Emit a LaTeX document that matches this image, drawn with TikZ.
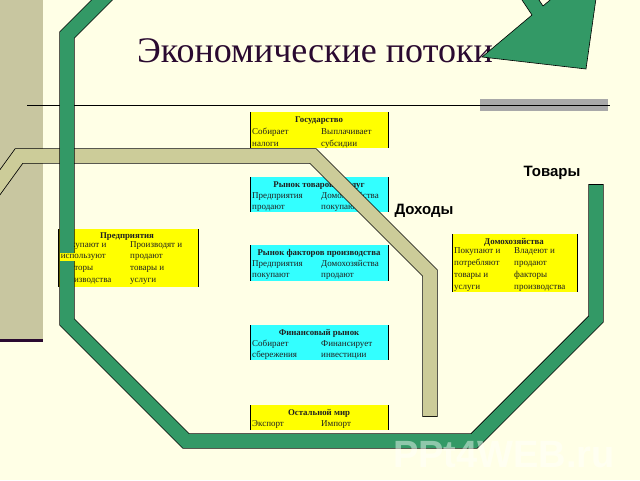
\documentclass[tikz,border=0pt]{standalone}
\usepackage{fontspec}
\setmainfont{Liberation Serif}
\newfontfamily\labfont{Liberation Sans}
\definecolor{bg}{HTML}{FFFFE6}
\definecolor{tanbar}{HTML}{C8C6A0}
\definecolor{grn}{HTML}{339966}
\definecolor{tanband}{HTML}{CCCC99}
\definecolor{cyanbox}{HTML}{33FFFF}
\definecolor{ylw}{HTML}{FFFF00}
\definecolor{titlec}{HTML}{2A0A30}
\definecolor{txt}{HTML}{202020}
\definecolor{graybar}{HTML}{A8A8A8}
\tikzset{
  boxy/.style={draw=none, inner sep=0, anchor=north west, minimum width=138, minimum height=36},
  cell/.style={font=\fontsize{9}{10}\selectfont, text=txt, inner sep=0, anchor=base west},
  head/.style={font=\bfseries\fontsize{8.8}{10}\selectfont, text=txt, inner sep=0, anchor=base},
  edge/.style={black, line width=0.8},
  bandout/.style={black, line width=15.4, line join=miter, line cap=butt},
  grnin/.style={grn, line width=13.8, line join=miter, line cap=butt},
  tanin/.style={tanband, line width=13.8, line join=miter, line cap=butt},
  biglab/.style={font=\labfont\bfseries\fontsize{15}{18}\selectfont, text=black, inner sep=0}
}
\begin{document}
\begin{tikzpicture}[x=1pt,y=-1pt]
\useasboundingbox (0,0) rectangle (640,480);
\fill[bg] (0,0) rectangle (640,480);
\begin{scope}
\clip (0,0) rectangle (640,480);
% left tan bar
\fill[tanbar] (0,0) rectangle (43,340);
\fill[titlec] (0,339) rectangle (43,341.5);
% gray bar and rule
\fill[graybar] (480,99) rectangle (608,111);
\draw[black, line width=0.8] (27,105) -- (610,105);
% title
\node[font=\fontsize{36}{40}\selectfont, text=titlec, inner sep=0, anchor=base west] (title) at (137,62) {Экономические потоки};

% boxes
\node[boxy, fill=ylw] (gos) at (250,112) {};
\node[boxy, fill=cyanbox, minimum height=35] (rtu) at (250,177) {};
\node[boxy, fill=cyanbox] (rfp) at (250,245) {};
\node[boxy, fill=cyanbox, minimum height=35] (fin) at (250,325) {};
\node[boxy, fill=ylw, minimum height=25] (mir) at (250,405) {};
\node[boxy, fill=ylw, minimum width=140, minimum height=58] (pred) at (58,229) {};
\node[boxy, fill=ylw, minimum width=125, minimum height=58] (dom) at (452,234) {};
\foreach \b in {gos,rtu,rfp,fin,mir,pred,dom}{
  \draw[edge] (\b.north west) -- (\b.south west);
  \draw[edge] (\b.north east) -- (\b.south east);
}
% Gosudarstvo
\node[head] (gosh) at (319,122) {Государство};
\node[cell] (g1) at (252,134) {Собирает};
\node[cell] (g2) at (321,134) {Выплачивает};
\node[cell] (g3) at (252,146) {налоги};
\node[cell] (g4) at (321,146) {субсидии};
% Rynok tovarov
\node[head] (rtuh) at (319,187) {Рынок товаров и услуг};
\node[cell] (r1) at (252,198) {Предприятия};
\node[cell] (r2) at (321,198) {Домохозяйства};
\node[cell] (r3) at (252,209) {продают};
\node[cell] (r4) at (321,209) {покупают};
% Rynok faktorov
\node[head] (rfph) at (319,255) {Рынок факторов производства};
\node[cell] (f1) at (252,266) {Предприятия};
\node[cell] (f2) at (321,266) {Домохозяйства};
\node[cell] (f3) at (252,277) {покупают};
\node[cell] (f4) at (321,277) {продают};
% Finansovyj rynok
\node[head] (finh) at (319,335) {Финансовый рынок};
\node[cell] (n1) at (252,346) {Собирает};
\node[cell] (n2) at (321,346) {Финансирует};
\node[cell] (n3) at (252,357) {сбережения};
\node[cell] (n4) at (321,357) {инвестиции};
% Ostalnoj mir
\node[head] (mirh) at (319,415) {Остальной мир};
\node[cell] (m1) at (252,426) {Экспорт};
\node[cell] (m2) at (321,426) {Импорт};
% Predpriyatiya
\node[head] (predh) at (127,238) {Предприятия};
\node[cell] (p1) at (60,247) {Покупают и};
\node[cell] (p2) at (130,247) {Производят и};
\node[cell] (p4) at (130,258) {продают};
\node[cell] (p5) at (60,270) {факторы};
\node[cell] (p6) at (130,270) {товары и};
\node[cell] (p7) at (60,282) {производства};
\node[cell] (p8) at (130,282) {услуги};
% Domohozyajstva
\node[head] (domh) at (514,244) {Домохозяйства};
\node[cell] (d1) at (454,253) {Покупают и};
\node[cell] (d2) at (514,253) {Владеют и};
\node[cell] (d3) at (454,265) {потребляют};
\node[cell] (d4) at (514,265) {продают};
\node[cell] (d5) at (454,277) {товары и};
\node[cell] (d6) at (514,277) {факторы};
\node[cell] (d7) at (454,289) {услуги};
\node[cell] (d8) at (514,289) {производства};

% tan band (Dohody)
\draw[bandout] (-10,196) -- (19,156) -- (313,156) -- (430,273) -- (430,416.8);
\draw[tanin] (-10,196) -- (19,156) -- (313,156) -- (430,273) -- (430,416);

% green band (Tovary)
\draw[bandout] (140,-38) -- (67,35) -- (67,322) -- (186,441) -- (474,441) -- (596,319) -- (596,184.2);
\draw[grnin] (140,-38) -- (67,35) -- (67,322) -- (186,441) -- (474,441) -- (596,319) -- (596,185);
\node[cell, fill=ylw, inner sep=0.6] (p3) at (60,258) {используют};

% big arrow head at top right
\draw[fill=grn, draw=black, line width=0.6, line join=miter]
  (512,-15) -- (532,15) -- (482,57) -- (586,69) -- (602,-44) -- (543,6) -- (523,-24) -- cycle;

% labels
\node[biglab] (tov) at (552,173) {Товары};
\node[biglab] (doh) at (424,211) {Доходы};
% watermark
\node[font=\labfont\bfseries\fontsize{38}{40}\selectfont, text=white, opacity=0.45, inner sep=0] (wm) at (504,455) {PPt4WEB.ru};
\end{scope}
\end{tikzpicture}
\end{document}
